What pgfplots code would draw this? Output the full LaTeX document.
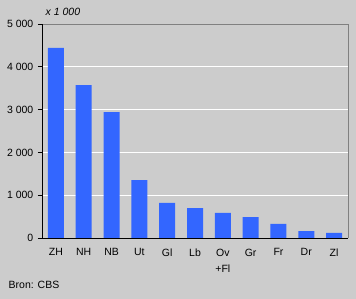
\documentclass[border=0pt]{standalone}
\usepackage{fontspec}
\setmainfont{Liberation Sans}
\usepackage{pgfplots}
\pgfplotsset{compat=1.18}
\definecolor{bg}{HTML}{CCCCCC}
\definecolor{barc}{HTML}{3366FF}
\definecolor{frame}{HTML}{808080}
\begin{document}
\fontsize{10.5bp}{12.5bp}\selectfont
\begin{tikzpicture}
\fill[bg] (0,0) rectangle (356bp,299bp);
\useasboundingbox (0,0) rectangle (356bp,299bp);
\begin{axis}[
  at={(42bp,61bp)}, anchor=south west,
  scale only axis, width=306bp, height=214bp,
  xmin=-0.5, xmax=10.5, ymin=0, ymax=5000,
  axis lines=left, axis line style={-, black, line width=0.8pt},
  xtick=data,
  xticklabels={ZH,NH,NB,Ut,Gl,Lb,Ov\\+Fl,Gr,Fr,Dr,Zl},
  xticklabel style={align=center, yshift=-3bp, font=\fontsize{10.5bp}{16bp}\selectfont},
  xtick style={draw=none},
  ytick={0,1000,2000,3000,4000,5000},
  yticklabels={0,1 000,2 000,3 000,4 000,5 000},
  ytick style={black, line width=0.8pt},
  tick align=outside, major tick length=4bp,
  yticklabel style={xshift=-1bp},
  ymajorgrids, grid style={white, line width=0.8pt},
  /pgf/number format/assume math mode=true,
  ybar, bar width=16bp,
  axis on top=false,
  clip=false,
]
\addplot[fill=barc, draw=none] coordinates {
(0,4440) (1,3570) (2,2940) (3,1355) (4,820) (5,700) (6,585) (7,490) (8,330) (9,160) (10,120)
};
\draw[frame, line width=0.8pt] (rel axis cs:0,1) -- (rel axis cs:1,1) -- (rel axis cs:1,0);
\draw[black, line width=0.8pt] (rel axis cs:0,0) -- (rel axis cs:1,0);
\draw[black, line width=0.8pt] (rel axis cs:0,0) -- (rel axis cs:0,1);
\end{axis}
\node[anchor=west, font=\itshape] at (42bp,287bp) {x 1 000};
\node[anchor=west] at (5bp,14bp) {Bron: CBS};
\end{tikzpicture}
\end{document}
